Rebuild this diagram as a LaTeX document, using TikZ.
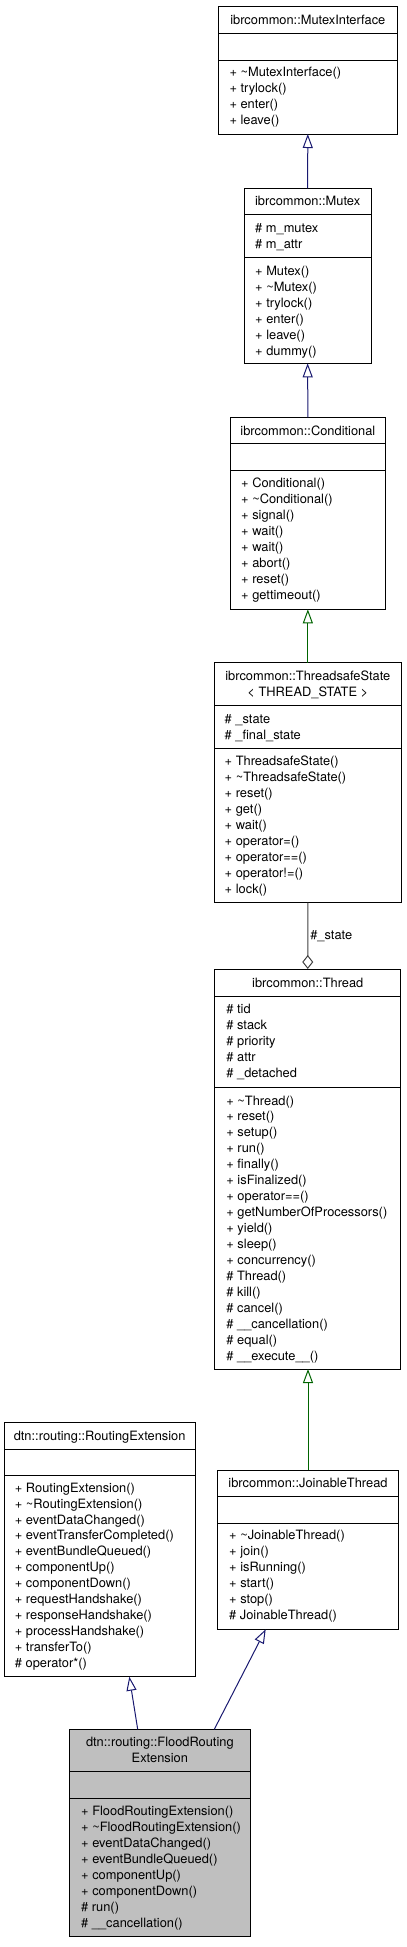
\documentclass[tikz,border=0pt]{standalone}
\usepackage{fontspec}
\setmainfont{TeX Gyre Heros}
\usetikzlibrary{arrows.meta}
\definecolor{midnightblue}{RGB}{25,25,112}
\definecolor{dkgreen}{RGB}{0,100,0}
\definecolor{aggrgray}{RGB}{64,64,64}
\definecolor{hlfill}{RGB}{191,191,191}
\begin{document}
\begin{tikzpicture}[x=1pt,y=-1pt,
  cls/.style={draw=black, line width=1pt, inner sep=0pt, outer sep=0pt, anchor=north west},
  txt/.style={inner sep=0pt, anchor=base west, font=\fontsize{12.85}{16}\selectfont},
  ttl/.style={inner sep=0pt, anchor=base, font=\fontsize{12.85}{16}\selectfont},
  sepline/.style={line width=1pt},
  inharrow/.style={line width=1pt, -{Triangle[open, length=14pt, width=10pt]}},
  bluearrow/.style={inharrow, draw=midnightblue},
  greenarrow/.style={inharrow, draw=dkgreen},
  aggrarrow/.style={line width=1pt, draw=aggrgray, -{Diamond[open, length=14pt, width=11pt]}},
  lbl/.style={inner sep=2pt, font=\fontsize{12.85}{16}\selectfont}
]
\useasboundingbox (0,0) rectangle (407,1947);

% ---------- MutexInterface ----------
\node[cls, minimum width=179pt, minimum height=128pt] (mi) at (218.3,6) {};
\draw[sepline] (218.3,33.3) -- (397.3,33.3);
\draw[sepline] (218.3,60) -- (397.3,60);
\node[ttl] (mit) at (307.8,24.2) {ibrcommon::MutexInterface};
\foreach \t [count=\i from 0] in {+ \textasciitilde MutexInterface(), + trylock(), + enter(), + leave()}
  \node[txt] (mim\i) at (229.3,76.8+16*\i) {\t};

% ---------- Mutex ----------
\node[cls, minimum width=126.7pt, minimum height=175pt] (mx) at (244.3,188.3) {};
\draw[sepline] (244.3,214.3) -- (371,214.3);
\draw[sepline] (244.3,257.7) -- (371,257.7);
\node[ttl] (mxt) at (307.65,205.2) {ibrcommon::Mutex};
\foreach \t [count=\i from 0] in {\# m\_mutex, \# m\_attr}
  \node[txt] (mxa\i) at (255,232.2+16*\i) {\t};
\foreach \t [count=\i from 0] in {+ Mutex(), + \textasciitilde Mutex(), + trylock(), + enter(), + leave(), + dummy()}
  \node[txt] (mxm\i) at (255,275.2+16*\i) {\t};

% ---------- Conditional ----------
\node[cls, minimum width=155.7pt, minimum height=192pt] (cd) at (230,417.3) {};
\draw[sepline] (230,443.3) -- (385.7,443.3);
\draw[sepline] (230,470.3) -- (385.7,470.3);
\node[ttl] (cdt) at (307.85,435.2) {ibrcommon::Conditional};
\foreach \t [count=\i from 0] in {+ Conditional(), + \textasciitilde Conditional(), + signal(), + wait(), + wait(), + abort(), + reset(), + gettimeout()}
  \node[txt] (cdm\i) at (241,487.8+16*\i) {\t};

% ---------- ThreadsafeState ----------
\node[cls, minimum width=187.7pt, minimum height=239.8pt] (ts) at (214,662.7) {};
\draw[sepline] (214,705) -- (401.7,705);
\draw[sepline] (214,748.3) -- (401.7,748.3);
\node[ttl] (tst1) at (307.85,680.5) {ibrcommon::ThreadsafeState};
\node[ttl] (tst2) at (307.85,696.5) {< THREAD\_STATE >};
\foreach \t [count=\i from 0] in {\# \_state, \# \_final\_state}
  \node[txt] (tsa\i) at (224.5,723.2+16*\i) {\t};
\foreach \t [count=\i from 0] in {+ ThreadsafeState(), + \textasciitilde ThreadsafeState(), + reset(), + get(), + wait(), + operator=(), + operator==(), + operator!=(), + lock()}
  \node[txt] (tsm\i) at (224.5,765.2+16*\i) {\t};

% ---------- Thread ----------
\node[cls, minimum width=186.1pt, minimum height=400pt] (th) at (214.7,969) {};
\draw[sepline] (214.7,996) -- (400.8,996);
\draw[sepline] (214.7,1087.2) -- (400.8,1087.2);
\node[ttl] (tht) at (307.75,987.5) {ibrcommon::Thread};
\foreach \t [count=\i from 0] in {\# tid, \# stack, \# priority, \# attr, \# \_detached}
  \node[txt] (tha\i) at (226.2,1013.5+15.95*\i) {\t};
\foreach \t [count=\i from 0] in {+ \textasciitilde Thread(), + reset(), + setup(), + run(), + finally(), + isFinalized(), + operator==(), + getNumberOfProcessors(), + yield(), + sleep(), + concurrency(), \# Thread(), \# kill(), \# cancel(), \# \_\_cancellation(), \# equal(), \# \_\_execute\_\_()}
  \node[txt] (thm\i) at (226.2,1105+15.95*\i) {\t};

% ---------- RoutingExtension ----------
\node[cls, minimum width=190.7pt, minimum height=254pt] (re) at (4.3,1422.7) {};
\draw[sepline] (4.3,1449) -- (195,1449);
\draw[sepline] (4.3,1475.7) -- (195,1475.7);
\node[ttl] (ret) at (99.65,1440.2) {dtn::routing::RoutingExtension};
\foreach \t [count=\i from 0] in {+ RoutingExtension(), + \textasciitilde RoutingExtension(), + eventDataChanged(), + eventTransferCompleted(), + eventBundleQueued(), + componentUp(), + componentDown(), + requestHandshake(), + responseHandshake(), + processHandshake(), + transferTo(), \# operator*()}
  \node[txt] (rem\i) at (14.7,1492.2+15.9*\i) {\t};

% ---------- JoinableThread ----------
\node[cls, minimum width=180.6pt, minimum height=159pt] (jt) at (217.7,1470.3) {};
\draw[sepline] (217.7,1496.7) -- (398.3,1496.7);
\draw[sepline] (217.7,1523) -- (398.3,1523);
\node[ttl] (jtt) at (308,1487.2) {ibrcommon::JoinableThread};
\foreach \t [count=\i from 0] in {+ \textasciitilde JoinableThread(), + join(), + isRunning(), + start(), + stop(), \# JoinableThread()}
  \node[txt] (jtm\i) at (229,1539.8+15.9*\i) {\t};

% ---------- FloodRoutingExtension ----------
\node[cls, fill=hlfill, minimum width=180.3pt, minimum height=206.7pt] (fr) at (69.7,1729.3) {};
\draw[sepline] (69.7,1771) -- (250,1771);
\draw[sepline] (69.7,1798.3) -- (250,1798.3);
\node[ttl] (frt1) at (159.85,1746.2) {dtn::routing::FloodRouting};
\node[ttl] (frt2) at (159.85,1762.2) {Extension};
\foreach \t [count=\i from 0] in {+ FloodRoutingExtension(), + \textasciitilde FloodRoutingExtension(), + eventDataChanged(), + eventBundleQueued(), + componentUp(), + componentDown(), \# run(), \# \_\_cancellation()}
  \node[txt] (frm\i) at (81,1815.5+15.95*\i) {\t};

% ---------- connectors ----------
\draw[bluearrow] (mx.north) -- (mi.south);
\draw[bluearrow] (cd.north) -- (mx.south);
\draw[greenarrow] (ts.north) -- (cd.south);
\draw[aggrarrow] (ts.south) -- node[lbl, anchor=west] (lstate) {\#\_state} (th.north);
\draw[greenarrow] (jt.north) -- (jt.north |- th.south);
\draw[bluearrow] ([xshift=68pt]fr.north west) -- ([xshift=125pt]re.south west);
\draw[bluearrow] ([xshift=144.6pt]fr.north west) -- ([xshift=48pt]jt.south west);
\end{tikzpicture}
\end{document}
